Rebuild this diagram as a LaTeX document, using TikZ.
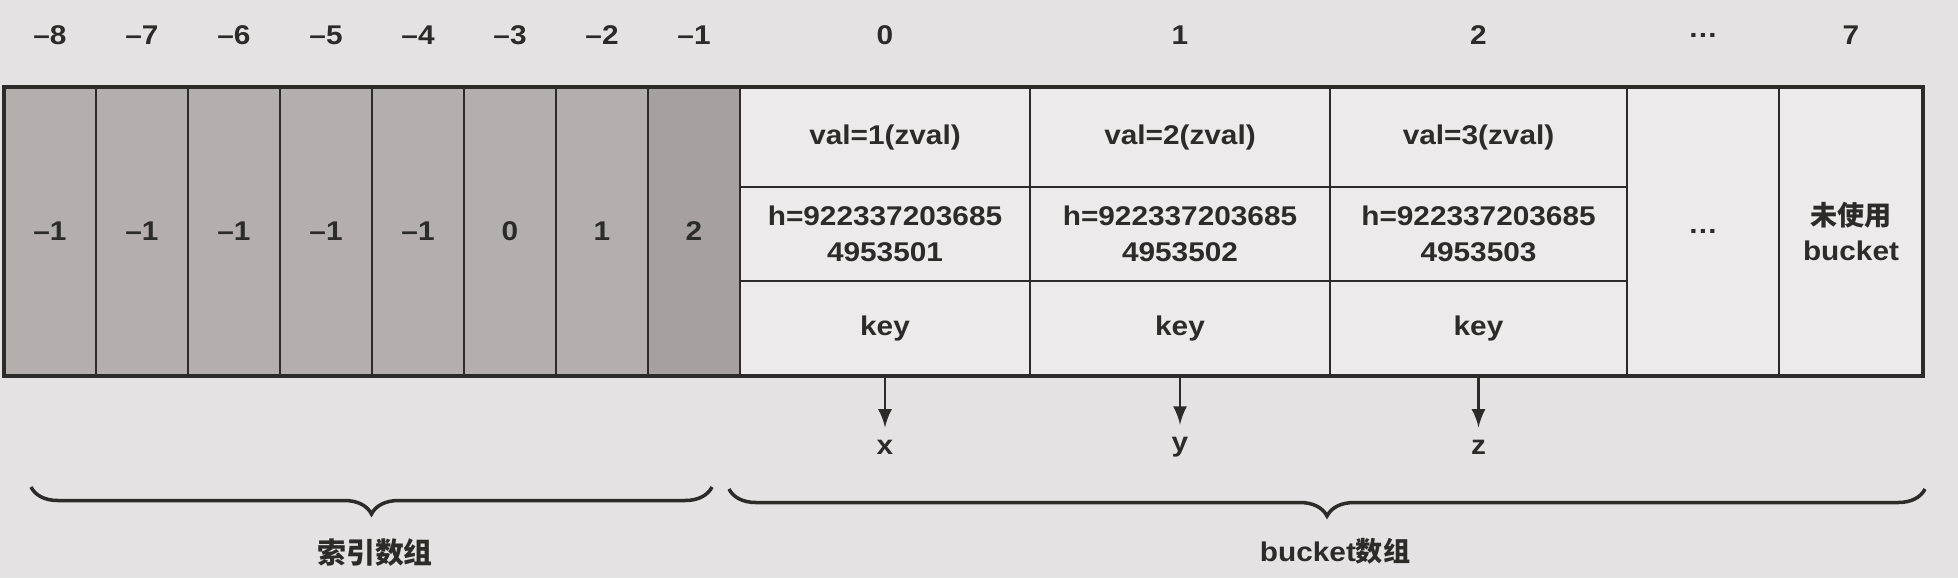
\documentclass[tikz,border=0pt]{standalone}
\usepackage{fontspec}
\setmainfont[FakeStretch=1.1]{Liberation Sans}
\newfontfamily\cjk{Noto Sans CJK SC}
\usepackage{tikz}
\usetikzlibrary{arrows,decorations.pathreplacing}
\definecolor{paper}{RGB}{229,226,227}
\definecolor{idxgray}{RGB}{180,175,172}
\definecolor{cellbg}{RGB}{236,234,234}
\definecolor{ink}{RGB}{45,42,42}

\begin{document}
\begin{tikzpicture}[x=0.01cm, y=-0.01cm,
	lbl/.style={text=ink, font=\bfseries\fontsize{7.7}{10.2}\selectfont},
	idx/.style={lbl, draw=ink, fill=idxgray, line width=0.8pt, inner sep=0pt, minimum width=0.92cm, minimum height=2.89cm},
	slot/.style={lbl, draw=ink, fill=cellbg, line width=0.8pt, inner sep=0pt, align=center}]
	\path[use as bounding box, fill=paper] (0,0) rectangle (1958,578);
	% index array
	\foreach \v [count=\i from 0] in {–1,–1,–1,–1,–1,0,1,2} {
		\node [idx] (g\i) at (50+92*\i,231.5) {\v};
	}
	\node [idx, fill=idxgray!92!black] (g7) at (694,231.5) {2};
	\foreach \t [count=\i from 0] in {–8,–7,–6,–5,–4,–3,–2,–1} {
		\node [lbl] (n\i) at (50+92*\i,35) {\t};
	}
	% bucket array
	\foreach \c/\xa/\xb/\h in {0/740/1030/01, 1/1030/1330/02, 2/1330/1627/03} {
		\pgfmathtruncatemacro{\v}{\c+1}
		\node [slot, minimum width={(\xb-\xa)/100*1cm}, minimum height=1cm] (v\c) at ({(\xa+\xb)/2},137) {val=\v(zval)};
		\node [slot, minimum width={(\xb-\xa)/100*1cm}, minimum height=0.94cm] (h\c) at ({(\xa+\xb)/2},234) {h=922337203685\\49535\h};
		\node [slot, minimum width={(\xb-\xa)/100*1cm}, minimum height=0.95cm] (k\c) at ({(\xa+\xb)/2},328.5) {key};
		\node [lbl] (b\c) at ({(\xa+\xb)/2},35) {\c};
	}
	\node [slot, minimum width=1.52cm, minimum height=2.89cm] (more) at (1703,231.5) {…};
	\node [slot, minimum width=1.44cm, minimum height=2.89cm] (free) at (1851,231.5) {{\cjk\bfseries 未使用}\\bucket};
	\node [lbl] (bmore) at (1703,35) {…};
	\node [lbl] (b7) at (1851,35) {7};
	\draw [ink, line width=1.1pt] (4,87) rectangle (1923,376);
	% keys
	\node [lbl] (kx) at (885,447) {x};
	\node [lbl] (ky) at (1180,447) {y};
	\node [lbl] (kz) at (1478.5,447) {z};
	\draw [ink, line width=0.8pt, -latex] (k0.south) -- (kx.north);
	\draw [ink, line width=0.8pt, -latex] (k1.south) -- (ky.north);
	\draw [ink, line width=0.8pt, -latex] (k2.south) -- (kz.north);
	% braces
	\coordinate (ia) at (31,487);
	\coordinate (ib) at (712,487);
	\coordinate (ba) at (729,489);
	\coordinate (bb) at (1925,489);
	\draw [ink, line width=1pt, decorate, decoration={brace, mirror, amplitude=0.27cm}] (ia) -- (ib);
	\draw [ink, line width=1pt, decorate, decoration={brace, mirror, amplitude=0.27cm}] (ba) -- (bb);
	\node [lbl, font=\cjk\bfseries\fontsize{8.2}{10}\selectfont] (iname) at (375,553) {索引数组};
	\node [lbl, font=\bfseries\fontsize{7.7}{10}\selectfont] (bname) at (1335,551) {bucket{\cjk 数组}};
\end{tikzpicture}
\end{document}
